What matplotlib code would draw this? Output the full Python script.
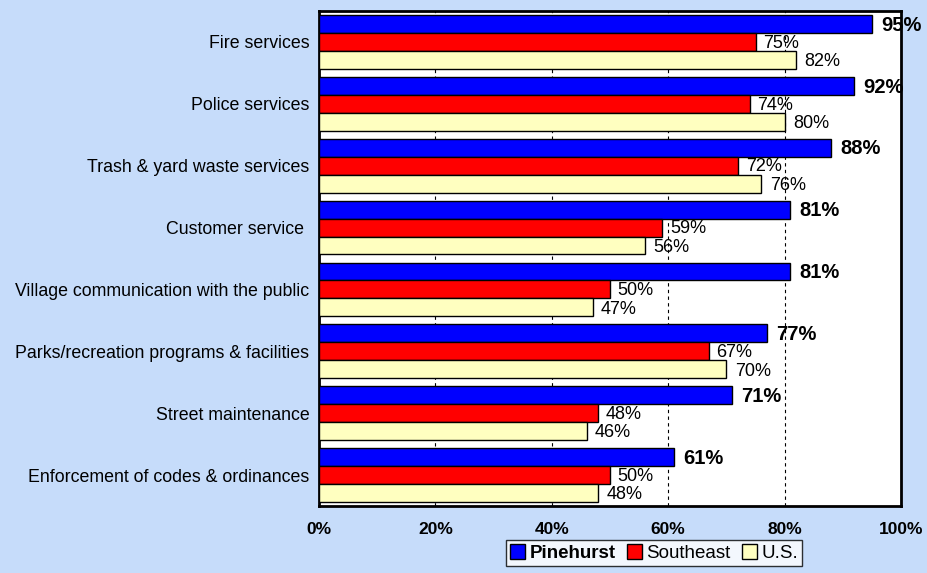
import matplotlib
matplotlib.use("Agg")
import matplotlib.pyplot as plt
import numpy as np

categories = ["Fire services", "Police services", "Trash & yard waste services",
              "Customer service ", "Village communication with the public",
              "Parks/recreation programs & facilities", "Street maintenance",
              "Enforcement of codes & ordinances"]
pinehurst = [95, 92, 88, 81, 81, 77, 71, 61]
southeast = [75, 74, 72, 59, 50, 67, 48, 50]
us = [82, 80, 76, 56, 47, 70, 46, 48]
series_names = ["Pinehurst", "Southeast", "U.S."]
xticks = [0, 20, 40, 60, 80, 100]
xtick_labels = ["0%", "20%", "40%", "60%", "80%", "100%"]

plt.rcParams['font.family'] = ['Liberation Sans', 'DejaVu Sans']
bg = '#C6DCFA'
fig = plt.figure(figsize=(9.27, 5.73), dpi=100, facecolor=bg)
ax = fig.add_axes([319/927, 1-506/573, (901-319)/927, (506-11)/573])
ax.set_facecolor('white')

y = np.arange(len(categories))
h = 0.29
colors = ['#0000FF', '#FF0000', '#FFFFC0']
offs = [-h, 0, h]
data = [pinehurst, southeast, us]
bars = []
for k in range(3):
    b = ax.barh(y + offs[k], data[k], height=h, color=colors[k], edgecolor='black',
                linewidth=1.0, label=series_names[k], zorder=3)
    bars.append(b)

for i in range(len(categories)):
    ax.annotate(f"{pinehurst[i]}%", (pinehurst[i], y[i] - h + 0.02), xytext=(6.5, 0),
                textcoords='offset points', va='center', ha='left',
                fontsize=14.5, fontweight='bold', zorder=5, annotation_clip=False)
    ax.annotate(f"{southeast[i]}%", (southeast[i], y[i] + 0.02), xytext=(5.5, 0),
                textcoords='offset points', va='center', ha='left',
                fontsize=13, zorder=5, annotation_clip=False)
    ax.annotate(f"{us[i]}%", (us[i], y[i] + h + 0.03), xytext=(6, 0),
                textcoords='offset points', va='center', ha='left',
                fontsize=13, zorder=5, annotation_clip=False)

ax.set_xlim(0, 100)
ax.set_ylim(len(categories) - 0.5, -0.5)
ax.set_xticks(xticks)
ax.set_xticklabels(xtick_labels, fontsize=12.5, fontweight='bold')
ax.set_yticks(y)
ax.set_yticklabels(categories, fontsize=12.8)
ax.tick_params(axis='both', length=0)
ax.tick_params(axis='x', pad=11.5)
ax.tick_params(axis='y', pad=7)
for gx in [20, 40, 60, 80]:
    ax.axvline(gx, color='black', linestyle=(0, (3, 3)), linewidth=0.8, zorder=1)
for s in ax.spines.values():
    s.set_linewidth(2)
    s.set_color('black')

leg = fig.legend(handles=bars, labels=series_names, loc='center',
                 bbox_to_anchor=(654/927, 1-553/573), ncol=3, frameon=True,
                 fancybox=False, edgecolor='black', facecolor='white',
                 fontsize=13.5, handlelength=0.8, handleheight=0.8,
                 handletextpad=0.25, columnspacing=0.6, borderpad=0.2,
                 borderaxespad=0)
leg.get_frame().set_linewidth(1)
leg.get_texts()[0].set_fontweight('bold')

fig.savefig("out.png", dpi=100, facecolor=bg)
